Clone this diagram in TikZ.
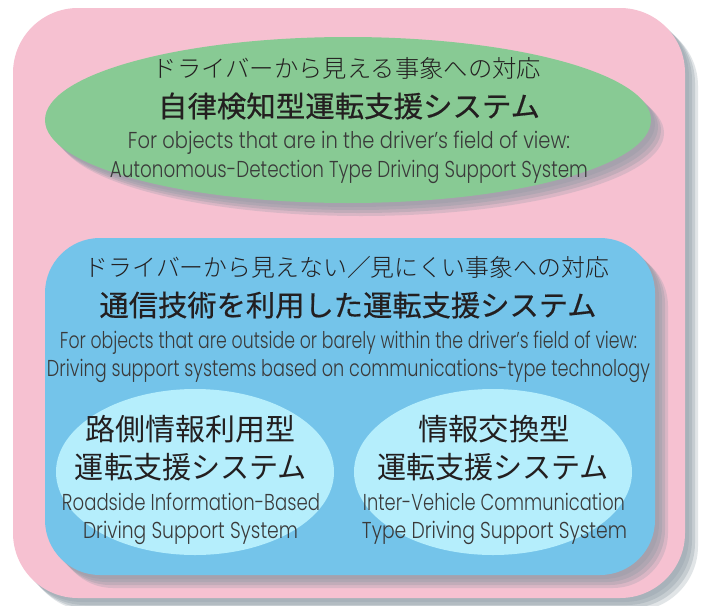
\documentclass[tikz,border=0pt]{standalone}
\usepackage{fontspec}
\usepackage{graphicx}
\newfontfamily\jpfont{Noto Sans CJK JP}
\newfontfamily\jplight{Noto Sans CJK JP}[UprightFont={* Light}]
\newfontfamily\jptitle[FakeBold=0.5]{Noto Sans CJK JP}
\newfontfamily\enfont{Poppins}[UprightFont={* Light}]
\definecolor{pinkbg}{HTML}{F6C1D1}
\definecolor{greenc}{HTML}{88CA94}
\definecolor{bluec}{HTML}{74C4EA}
\definecolor{cyanc}{HTML}{B5EEFC}
\definecolor{shadowc}{HTML}{8A98A2}
\definecolor{jptxt}{HTML}{231F20}
\definecolor{entxt}{HTML}{3A3A3A}
\newcommand\fitw[2]{\resizebox{#1pt}{\height}{#2}}
\tikzset{
  jpsub/.style={anchor=base, inner sep=0pt, text=jptxt, font=\jplight\fontsize{24}{24}\selectfont},
  jphead/.style={anchor=base, inner sep=0pt, text=jptxt, font=\jptitle\fontsize{29}{29}\selectfont},
  jpell/.style={anchor=base, inner sep=0pt, text=jptxt, font=\jpfont\fontsize{30}{30}\selectfont},
  entext/.style={anchor=base, inner sep=0pt, text=entxt, font=\enfont\fontsize{23}{23}\selectfont},
}
\begin{document}
\begin{tikzpicture}[x=1pt,y=-1pt]
\fill[white] (0,0) rectangle (701,605);
\useasboundingbox (0,0) rectangle (701,605);
% outer pink panel with shadow
\foreach \o/\op in {4/0.25,7/0.3,10/0.3,13/0.25}{
  \fill[shadowc,opacity=\op,rounded corners=65pt] (13+\o,8+\o) rectangle (685+\o,598+\o);
}
\fill[pinkbg,rounded corners=65pt] (13,8) rectangle (685,598);
% green ellipse with shadow
\foreach \o/\op in {4/0.25,7/0.3,10/0.3,13/0.25}{
  \fill[shadowc,opacity=\op] (348+\o,120+\o) ellipse [x radius=303pt,y radius=83pt];
}
\fill[greenc] (348,120) ellipse [x radius=303pt,y radius=83pt];
% blue panel with shadow
\foreach \o/\op in {4/0.25,7/0.3,10/0.3,13/0.25}{
  \fill[shadowc,opacity=\op,rounded corners=55pt] (45+\o,238+\o) rectangle (655+\o,575+\o);
}
\fill[bluec,rounded corners=55pt] (45,238) rectangle (655,575);
% light ellipses
\fill[cyanc] (195,472) ellipse [x radius=139pt,y radius=83pt];
\fill[cyanc] (493,472) ellipse [x radius=139pt,y radius=83pt];
% green texts
\node[jpsub] (g1) at (347,77) {\fitw{388}{ドライバーから見える事象への対応}};
\node[jphead] (g2) at (349,117) {\fitw{382}{自律検知型運転支援システム}};
\node[entext] (g3) at (349,148) {\fitw{442}{For objects that are in the driver’s field of view:}};
\node[entext] (g4) at (349,177) {\fitw{478}{Autonomous-Detection Type Driving Support System}};
% blue texts
\node[jpsub] (b1) at (347,276) {\fitw{524}{ドライバーから見えない／見にくい事象への対応}};
\node[jphead] (b2) at (348,316) {\fitw{497}{通信技術を利用した運転支援システム}};
\node[entext] (b3) at (348.5,348) {\fitw{577}{For objects that are outside or barely within the driver’s field of view:}};
\node[entext] (b4) at (348.5,376) {\fitw{603}{Driving support systems based on communications-type technology}};
% left ellipse texts
\node[jpell] (l1) at (190,440) {\fitw{210}{路側情報利用型}};
\node[jpell] (l2) at (191,478) {\fitw{232}{運転支援システム}};
\node[entext] (l3) at (191,510) {\fitw{258}{Roadside Information-Based}};
\node[entext] (l4) at (190.5,538) {\fitw{215}{Driving Support System}};
% right ellipse texts
\node[jpell] (r1) at (494,440) {\fitw{152}{情報交換型}};
\node[jpell] (r2) at (493,478) {\fitw{232}{運転支援システム}};
\node[entext] (r3) at (494,510) {\fitw{262}{Inter-Vehicle Communication}};
\node[entext] (r4) at (494.5,538) {\fitw{265}{Type Driving Support System}};
\end{tikzpicture}
\end{document}
